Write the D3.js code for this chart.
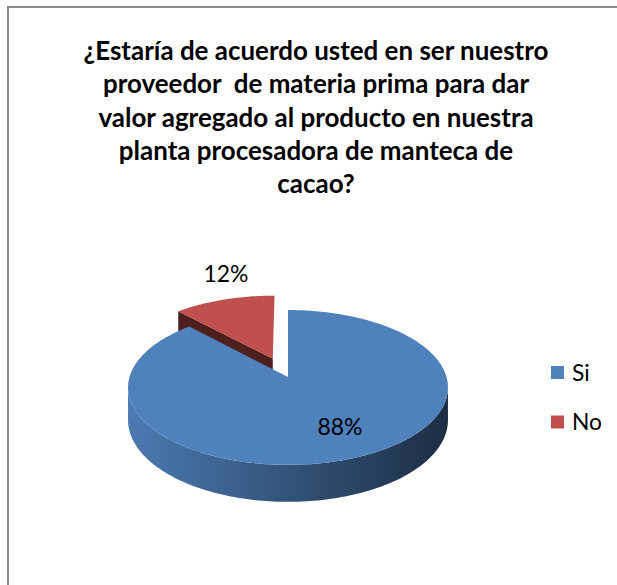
<!DOCTYPE html>
<html>
<head>
<meta charset="utf-8">
<script src="https://cdn.jsdelivr.net/npm/d3@7"></script>
<style>
  body { margin: 0; background: #fff; }
  svg text { font-family: Lato, "Open Sans", sans-serif; fill: #000; }
</style>
</head>
<body>
<svg id="chart" width="617" height="585"></svg>
<script>
// ---- data ----
const titleLines = [
  "¿Estaría de acuerdo usted en ser nuestro",
  "proveedor  de materia prima para dar",
  "valor agregado al producto en nuestra",
  "planta procesadora de manteca de",
  "cacao?"
];
const categories = ["Si", "No"];
const values = [88, 12];
const valueLabels = ["88%", "12%"];
const sliceColors = ["#4f81bd", "#c0504d"];
const explodeBy = [0, 0.27];

// ---- layout ----
const svg = d3.select("#chart");

// chart frame (runs off the right and bottom edges)
svg.append("rect")
  .attr("x", 8).attr("y", 7).attr("width", 800).attr("height", 800)
  .attr("fill", "none").attr("stroke", "#8a8a8a").attr("stroke-width", 2);

// helper: size a text so its rendered width equals target
function fitSize(sel, target, base) {
  const w = sel.node().getComputedTextLength();
  const fs = base * target / w;
  sel.attr("font-size", fs);
  return fs;
}

// ---- title ----
const titleG = svg.append("g");
const titleCx = 316;
const titleY0 = 60, titleStep = 33.3;
const probe = titleG.append("text").attr("font-weight", "bold").attr("font-size", 20)
  .style("white-space", "pre").text(titleLines[0]);
const titleSize = fitSize(probe, 465, 20);
probe.remove();
titleG.selectAll("text.title").data(titleLines).join("text")
  .attr("class", "title")
  .attr("x", titleCx)
  .attr("y", (d, i) => titleY0 + i * titleStep)
  .attr("text-anchor", "middle")
  .attr("font-weight", "bold")
  .attr("font-size", titleSize)
  .style("white-space", "pre")
  .text(d => d);

// ---- 3D pie projection ----
const cx = 288, cy = 377;      // projected pie centre
const A = 158.5, B = 76;       // horizontal / depth radii of the top face
const k = 0.135;               // perspective strength
const h0 = 32;                 // thickness of the pie
const color = d3.scaleOrdinal().domain(categories).range(sliceColors);

function project(X, Z, down) {
  const s = 1 / (1 - k * Z);
  return [cx + A * X * s, cy + B * Z * s + (down ? h0 * s : 0)];
}
function onDisk(a, r, off, down) {
  return project(off[0] + r * Math.sin(a), off[1] - r * Math.cos(a), down);
}
function arcPts(a0, a1, off, down) {
  const n = Math.max(2, Math.ceil(Math.abs(a1 - a0) / 0.02));
  return d3.range(n + 1).map(i => onDisk(a0 + (a1 - a0) * i / n, 1, off, down));
}
const line = d3.line();

const pie = d3.pie().sort(null).value(d => d.value);
const arcs = pie(categories.map((c, i) => ({ cat: c, value: values[i], explode: explodeBy[i] })));
arcs.forEach(a => {
  const mid = (a.startAngle + a.endAngle) / 2;
  a.offset = [a.data.explode * Math.sin(mid), -a.data.explode * Math.cos(mid)];
});

// gradient for the outer wall of each slice
const defs = svg.append("defs");
const wallL = project(-1.01, 0, false)[0], wallR = project(1.01, 0, false)[0];
arcs.forEach((a, i) => {
  const base = d3.color(color(a.data.cat));
  const g = defs.append("linearGradient").attr("id", "wall" + i)
    .attr("gradientUnits", "userSpaceOnUse")
    .attr("x1", wallL).attr("x2", wallR).attr("y1", 0).attr("y2", 0);
  g.append("stop").attr("offset", 0).attr("stop-color", base.darker(0.15));
  g.append("stop").attr("offset", 0.5).attr("stop-color", base.darker(1.25));
  g.append("stop").attr("offset", 1).attr("stop-color", base.darker(2.9));
});

// back slices first
const order = arcs.map((a, i) => i).sort((i, j) => arcs[i].offset[1] - arcs[j].offset[1]);
const visLo = Math.acos(-k), visHi = 2 * Math.PI - Math.acos(-k);
const pieG = svg.append("g");

order.forEach(i => {
  const a = arcs[i];
  const off = a.offset;
  const base = d3.color(color(a.data.cat));
  const g = pieG.append("g");
  const c0 = project(off[0], off[1], false), c1 = project(off[0], off[1], true);

  // radial walls facing the viewer
  [[a.startAngle, -1], [a.endAngle, 1]].forEach(([ang, sgn]) => {
    const facing = sgn * Math.sin(ang);
    if (facing > 0.01) {
      const p0 = onDisk(ang, 1, off, false), p1 = onDisk(ang, 1, off, true);
      g.append("path")
        .attr("d", line([c0, p0, p1, c1]) + "Z")
        .attr("fill", base.darker(2.55));
    }
  });

  // outer curved wall (front part only)
  const lo = Math.max(a.startAngle, visLo), hi = Math.min(a.endAngle, visHi);
  if (hi > lo) {
    const top = arcPts(lo, hi, off, false);
    const bot = arcPts(hi, lo, off, true);
    g.append("path")
      .attr("d", line(top.concat(bot)) + "Z")
      .attr("fill", `url(#wall${i})`);
  }

  // top face
  g.append("path")
    .attr("d", line([c0].concat(arcPts(a.startAngle, a.endAngle, off, false))) + "Z")
    .attr("fill", base);
});

// ---- data labels ----
const labelPos = { "Si": [340, 435], "No": [226, 282] };
const labG = svg.append("g");
const labs = labG.selectAll("text").data(arcs).join("text")
  .attr("x", d => labelPos[d.data.cat][0])
  .attr("y", d => labelPos[d.data.cat][1])
  .attr("text-anchor", "middle")
  .attr("font-size", 20)
  .text((d, i) => valueLabels[i]);
const labSize = fitSize(d3.select(labs.nodes()[0]), 45, 20);
labs.attr("font-size", labSize);

// ---- legend ----
const legG = svg.append("g").attr("transform", "translate(551,366)");
const legY = d3.scalePoint().domain(categories).range([0, 49.5]);
const items = legG.selectAll("g").data(categories).join("g")
  .attr("transform", d => `translate(0,${legY(d)})`);
items.append("rect").attr("width", 13).attr("height", 13).attr("fill", d => color(d));
const legText = items.append("text").attr("x", 21).attr("y", 14.5).attr("font-size", 20).text(d => d);
const legSize = fitSize(d3.select(legText.nodes()[1]), 30, 20);
legText.attr("font-size", legSize);
</script>
</body>
</html>
